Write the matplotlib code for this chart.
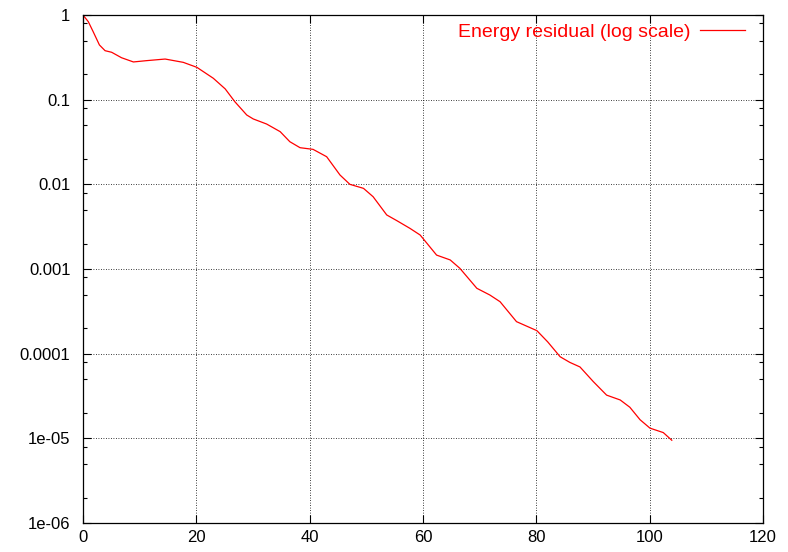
import matplotlib
matplotlib.use("Agg")
import matplotlib.pyplot as plt
from matplotlib.ticker import FixedLocator, FixedFormatter, LogLocator, NullFormatter

plt.rcParams['font.family'] = ['Liberation Sans', 'DejaVu Sans']

# iteration number vs energy residual
iters = [0, 0.94, 1.8, 2.9, 3.9, 5.06, 6.8, 8.9, 11.2, 14.5, 17.7, 20.1, 23.0,
         25.1, 26.8, 28.9, 30.05, 32.4, 34.8, 36.5, 38.3, 40.6, 43.0, 45.35,
         47.1, 49.5, 51.2, 53.6, 55.4, 57.7, 59.5, 62.4, 64.8, 66.5, 69.5, 71.8,
         73.6, 76.5, 80.1, 82.0, 84.2, 85.9, 87.7, 90.05, 92.4, 94.8, 96.5,
         98.3, 100.05, 102.4, 103.9]
residual = [1.0, 0.834, 0.635, 0.443, 0.379, 0.363, 0.313, 0.279, 0.289, 0.302,
            0.276, 0.241, 0.179, 0.134, 0.0946, 0.0659, 0.0592, 0.0516, 0.0419,
            0.0319, 0.0271, 0.0259, 0.0212, 0.0129, 0.0100, 0.00897, 0.00714,
            0.00435, 0.00372, 0.00302, 0.00252, 0.00146, 0.00128, 0.00102,
            0.000592, 0.000493, 0.000411, 0.000239, 0.000187, 0.000138, 9.2e-5,
            7.9e-5, 6.97e-5, 4.68e-5, 3.24e-5, 2.84e-5, 2.33e-5, 1.66e-5,
            1.32e-5, 1.17e-5, 9.5e-6]

xticks = [0, 20, 40, 60, 80, 100, 120]
yticks = [1e-6, 1e-5, 1e-4, 1e-3, 1e-2, 1e-1, 1]
ylabels = ['1e-06', '1e-05', '0.0001', '0.001', '0.01', '0.1', '1']

fig = plt.figure(figsize=(7.88, 5.52), dpi=100)
ax = fig.add_axes([0.1053, 0.0525, 0.863, 0.9203])

ax.plot(iters, residual, color='#ff0000', lw=0.9, label='Energy residual (log scale)')

ax.set_yscale('log')
ax.set_xlim(0, 120)
ax.set_ylim(1e-6, 1)
ax.xaxis.set_major_locator(FixedLocator(xticks))
ax.yaxis.set_major_locator(FixedLocator(yticks))
ax.yaxis.set_major_formatter(FixedFormatter(ylabels))
ax.yaxis.set_minor_locator(LogLocator(base=10, subs=(2, 5, 8)))
ax.yaxis.set_minor_formatter(NullFormatter())

ax.tick_params(which='both', direction='in', top=True, right=True, labelsize=12, color='k')
ax.tick_params(which='major', length=6, width=0.8, pad=5)
ax.tick_params(which='minor', length=3, width=0.8)
ax.tick_params(axis='y', pad=9)

ax.grid(True, which='major', color='k', linestyle=(0, (1, 2)), linewidth=0.6)
for s in ax.spines.values():
    s.set_linewidth(0.9)

# gnuplot-style key: text then sample line, top right
leg = ax.legend(loc='upper right', bbox_to_anchor=(0.9735, 0.983), frameon=False,
                markerfirst=False, fontsize=14, handlelength=2.3, handletextpad=0.5,
                borderaxespad=0, borderpad=0)
for t in leg.get_texts():
    t.set_color('#ff0000')

fig.savefig('out.png', dpi=100)
